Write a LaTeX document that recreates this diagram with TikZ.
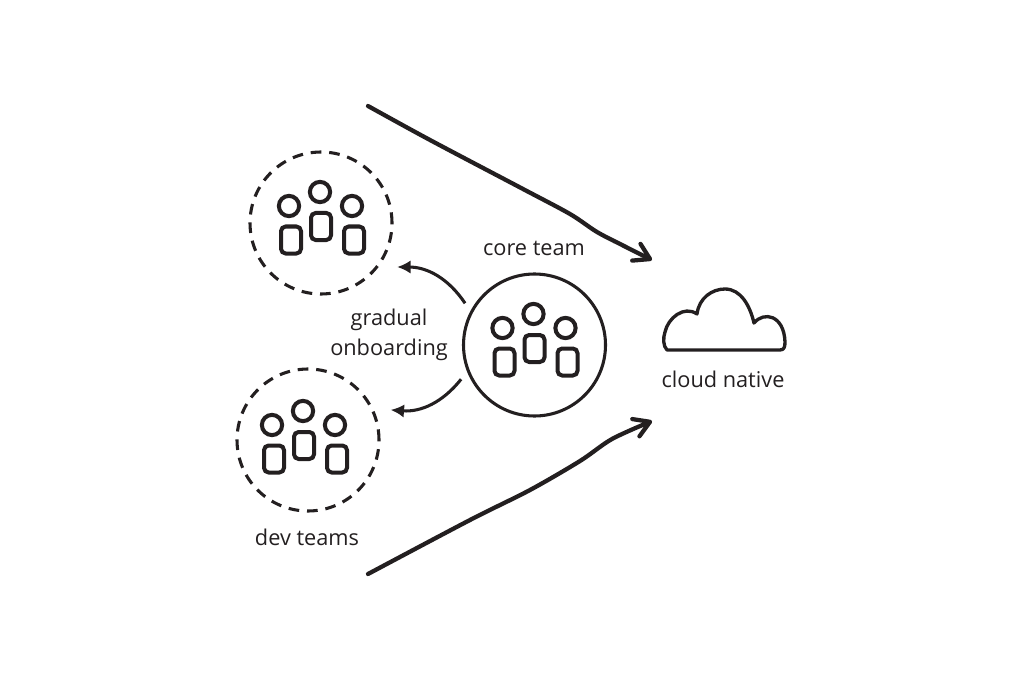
\documentclass[tikz,border=0pt]{standalone}
\usepackage{fontspec}
\setmainfont{Open Sans}
\usetikzlibrary{arrows.meta,positioning}
\definecolor{ink}{HTML}{231F20}

\begin{document}
\begin{tikzpicture}[x=.75pt, y=-.75pt, font=\fontsize{16.3}{22.5}\selectfont, text=ink,
  team/.style={draw=ink, circle, line width=2.3pt, minimum size=106.5pt, inner sep=0pt, outer sep=#1},
  team/.default={0pt},
  devteam/.style={team=12.75pt, dash pattern=on 8pt off 5.9pt},
  label/.style={align=center, inner sep=0pt},
  onboard/.style={draw=ink, line width=2.3pt, -{Latex[length=10pt, width=10pt]}},
  migrate/.style={draw=ink, line width=3.2pt, line cap=round, -{Straight Barb[length=11.5pt, width=14pt, line width=3.2pt, round]}},
  people/.pic={
    \foreach \hx/\hy/\bx/\by in {-32/-17/-30/17, -1/-31/0/3.5, 31/-17/33/17} {
      \draw[line width=3pt, draw=ink] (\hx,\hy) circle (7.6pt);
      \draw[line width=3pt, draw=ink, rounded corners=3.5pt] (\bx-10,\by-13.5) rectangle (\bx+10,\by+13.5);
    }
  }]
\useasboundingbox (0,0) rectangle (1021,681);
\node[team=7.5pt] (core) at (534.5,345) {};
\node[devteam] (teamA) at (321,223) {};
\node[devteam] (teamB) at (308,440) {};
\pic at (core) {people};
\pic at (teamA) {people};
\pic[shift={(-4,2)}] at (teamB) {people};
\node[label] (coreLabel) at (534,248) {core team};
\node[label] (devLabel) at (307,537) {dev teams};
\node[label] (onboardLabel) at (389,335) {gradual\\onboarding};
\node[label] (cloudLabel) at (723,379) {cloud native};
% cloud
\draw[draw=ink, line width=2.5pt, line join=round]
  (667,350) .. controls (663,346) and (663,338) .. (665,332)
  .. controls (668,318) and (684,305) .. (697,314)
  .. controls (699,298) and (712,289) .. (725,289)
  .. controls (741,289) and (750,306) .. (754,323)
  .. controls (764,311) and (784,315) .. (785,342)
  .. controls (785,347) and (784,350) .. (780,350)
  -- cycle;
% big arrows
\coordinate (topStart) at (368,106);
\coordinate (topEnd) at (652,260);
\coordinate (botStart) at (368,574);
\coordinate (botEnd) at (652,421);
\draw[migrate] plot[smooth, tension=.5] coordinates {(topStart) (430,140) (523,189) (570,214) (597,232) (624,246) (topEnd)};
\draw[migrate] plot[smooth, tension=.5] coordinates {(botStart) (470,520) (530,490) (580,461) (612,439) (botEnd)};
% onboarding
\draw[onboard] (core.149) to[bend right=28] (teamA.-30);
\draw[onboard] (core.205) to[bend left=28] (teamB.20);
\end{tikzpicture}
\end{document}
